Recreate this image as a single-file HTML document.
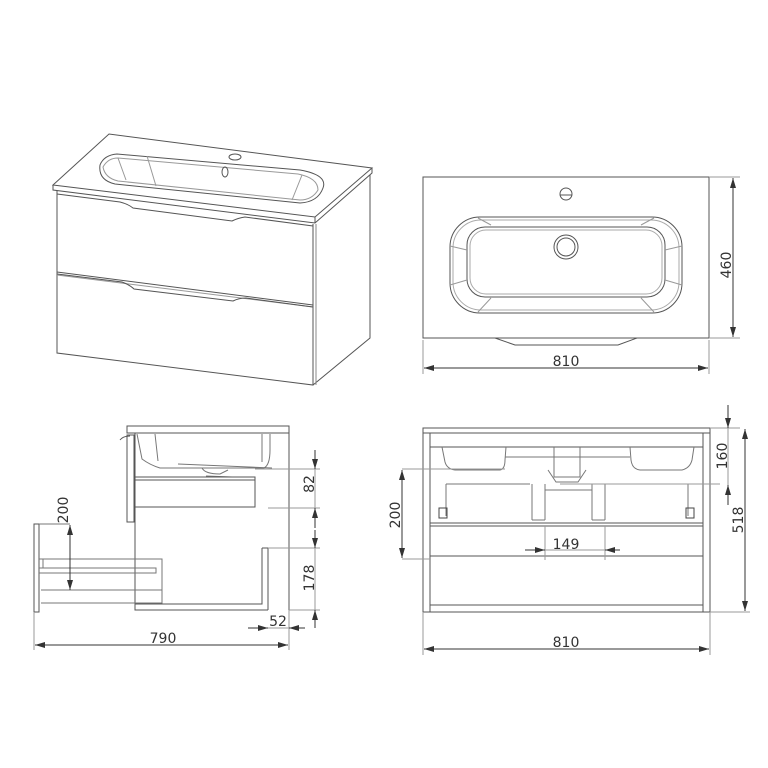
<!DOCTYPE html>
<html><head><meta charset="utf-8"><style>
html,body{margin:0;padding:0;background:#fff}
svg{display:block}
text{font-family:"DejaVu Sans","Liberation Sans",sans-serif;font-size:14px;fill:#333}
</style></head><body>
<svg width="768" height="768" viewBox="0 0 768 768" xmlns="http://www.w3.org/2000/svg">
<defs>
<marker id="a" viewBox="0 0 10 6" refX="10" refY="3" markerWidth="10" markerHeight="6" orient="auto-start-reverse" markerUnits="userSpaceOnUse"><path d="M0,0 L10,3 L0,6z" fill="#333"/></marker>
</defs>
<g fill="none" stroke="#555" stroke-width="1">
<!-- ISO view -->
<path d="M53,185 L109,134 L372,168 L315,217 Z" fill="#fff"/>
<path d="M53,185 L53,190 L315,223 L372,173 L372,168 M315,217 L315,223"/>
<path d="M57,191 L57,353 L313,385 L313,224"/>
<path d="M313,385 L370,338 L370,175"/>
<path d="M316,224 L316,385" stroke="#888"/>
<path d="M57,272 L313,305"/>
<path d="M57,275 L313,307" stroke="#999"/>
<path d="M57,194 L120,202 Q128,204 133,208 L232,221 Q238,218 245,217 L313,226"/>
<path d="M57,274 L122,282 Q130,285 134,289 L233,301 Q239,298 246,298 L313,307"/>
<path d="M100,165 Q104,155 117,154 L300,170 Q328,175 323,188 Q318,202 300,203 L115,184 Q98,180 100,165 Z"/>
<path d="M103,167 Q108,158 118,158 L298,174 Q318,178 318,190 Q312,200 300,200 L118,181 Q105,178 103,167 Z" stroke="#999"/>
<path d="M118,158 L126,180 M147,156 L156,186 M302,175 L292,200" stroke="#999"/>
<ellipse cx="235" cy="157" rx="6" ry="3"/>
<ellipse cx="225" cy="172" rx="3" ry="5"/>
<!-- Plan view -->
<rect x="423" y="177" width="286" height="161"/>
<path d="M495,338 L515,345 L618,345 L637,338"/>
<rect x="450" y="217" width="232" height="96" rx="30"/>
<rect x="453" y="220" width="226" height="90" rx="28" stroke="#aaa"/>
<rect x="467" y="227" width="198" height="70" rx="18"/>
<rect x="470" y="230" width="192" height="64" rx="16" stroke="#aaa"/>
<path d="M478,218 L491,225 M478,312 L491,298 M654,218 L641,225 M654,312 L641,298 M450,246 L467,250 M450,285 L467,280 M682,246 L665,250 M682,285 L665,280" stroke="#999"/>
<circle cx="566" cy="247" r="12"/><circle cx="566" cy="247" r="9"/>
<circle cx="566" cy="194" r="6"/><path d="M560,195 L572,195"/>
<!-- Side view -->
<rect x="127" y="426" width="162" height="7"/>
<rect x="127" y="435" width="7" height="87"/>
<path d="M135,433 L135,610 L268,610 M289,433 L289,610 M262,548 L268,548 L268,610 M262,548 L262,604 L135,604"/>
<path d="M137,434 L142,459 Q150,465 160,468 L264,468 Q270,465 270,450 L270,434 M262,434 L262,462 M155,434 L158,461 M178,464 L272,468" stroke="#777"/>
<path d="M202,468 Q205,474 220,474 L228,470 M206,476 L232,477" stroke="#777"/>
<path d="M135,477 L255,477 L255,507 L135,507 M135,480 L255,480" />
<path d="M120,440 Q123,436 130,436" />
<path d="M255,469 L320,469 M268,508 L320,508 M268,548 L320,548 M289,610 L320,610" stroke="#999"/>
<rect x="34" y="524" width="5" height="88"/>
<path d="M39,524 L70,524 M39,559 L162,559 L162,603 L41,603 M39,568 L156,568 L156,573 L39,573 M43,559 L43,568 L65,568 M41,590 L162,590" stroke="#777"/>
<!-- Front view -->
<rect x="423" y="428" width="287" height="5"/>
<rect x="423" y="433" width="287" height="179"/>
<path d="M430,433 L430,612 M703,433 L703,612 M430,447 L703,447 M430,523 L703,523 M430,526 L703,526 M430,556 L703,556 M430,605 L703,605"/>
<path d="M442,447 L445,462 Q447,469 455,470 L500,470 Q505,469 505,460 L506,447 M630,447 L631,460 Q632,469 640,470 L682,470 Q690,468 692,460 L694,447 M505,457 L630,457 M554,447 L554,477 L580,477 L580,447 M548,470 L556,482 L578,482 L586,470" stroke="#777"/>
<path d="M446,484 L530,484 M532,484 L532,520 M545,484 L545,520 M545,490 L592,490 M592,484 L592,520 M605,484 L605,520 M605,484 L690,484 M446,484 L446,516 M688,484 L688,516 M532,520 L545,520 M592,520 L605,520" stroke="#777"/>
<rect x="439" y="508" width="8" height="10" stroke="#444"/><rect x="686" y="508" width="8" height="10" stroke="#444"/>
<path d="M402,469 L505,469 M402,559 L430,559 M560,484 L720,484 M710,428 L740,428 M710,612 L750,612 M545,526 L545,560 M605,526 L605,560" stroke="#999"/>
<path d="M423,340 L423,374 M709,340 L709,374 M709,177 L740,177 M709,338 L740,338 M423,612 L423,655 M710,612 L710,655 M289,610 L289,650 M34,612 L34,650" stroke="#999"/>
</g>
<g stroke="#333" stroke-width="1" fill="none">
<path d="M733,178 L733,337" marker-start="url(#a)" marker-end="url(#a)"/>
<path d="M424,368 L708,368" marker-start="url(#a)" marker-end="url(#a)"/>
<path d="M424,649 L709,649" marker-start="url(#a)" marker-end="url(#a)"/>
<path d="M745,429 L745,611" marker-start="url(#a)" marker-end="url(#a)"/>
<path d="M728,405 L728,428" marker-end="url(#a)"/><path d="M728,505 L728,485" marker-end="url(#a)"/>
<path d="M728,428 L728,485" stroke="#999"/>
<path d="M402,470 L402,558" marker-start="url(#a)" marker-end="url(#a)"/>
<path d="M525,550 L545,550" marker-end="url(#a)"/><path d="M620,550 L605,550" marker-end="url(#a)"/>
<path d="M545,550 L605,550" stroke="#999"/>
<path d="M35,645 L288,645" marker-start="url(#a)" marker-end="url(#a)"/>
<path d="M70,525 L70,590" marker-start="url(#a)" marker-end="url(#a)"/>
<path d="M315,450 L315,469" marker-end="url(#a)"/><path d="M315,528 L315,508" marker-end="url(#a)"/>
<path d="M315,469 L315,508" stroke="#999"/>
<path d="M315,530 L315,548" marker-end="url(#a)"/><path d="M315,628 L315,610" marker-end="url(#a)"/>
<path d="M315,548 L315,610" stroke="#999"/>
<path d="M248,628 L268,628" marker-end="url(#a)"/><path d="M305,628 L289,628" marker-end="url(#a)"/>
<path d="M268,628 L289,628" stroke="#999"/>
</g>
<text x="566" y="366" text-anchor="middle">810</text>
<text x="566" y="647" text-anchor="middle">810</text>
<text x="163" y="643" text-anchor="middle">790</text>
<text x="278" y="626" text-anchor="middle">52</text>
<text x="566" y="549" text-anchor="middle">149</text>
<text transform="translate(731,265) rotate(-90)" text-anchor="middle">460</text>
<text transform="translate(743,520) rotate(-90)" text-anchor="middle">518</text>
<text transform="translate(727,456) rotate(-90)" text-anchor="middle">160</text>
<text transform="translate(400,515) rotate(-90)" text-anchor="middle">200</text>
<text transform="translate(68,510) rotate(-90)" text-anchor="middle">200</text>
<text transform="translate(314,484) rotate(-90)" text-anchor="middle">82</text>
<text transform="translate(314,578) rotate(-90)" text-anchor="middle">178</text>
</svg>
</body></html>
